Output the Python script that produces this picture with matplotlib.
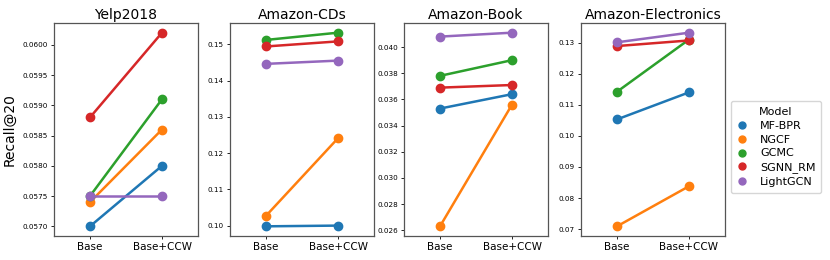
import matplotlib
matplotlib.use("Agg")
import matplotlib.pyplot as plt

datasets = ["Yelp2018", "Amazon-CDs", "Amazon-Book", "Amazon-Electronics"]
conditions = ["Base", "Base+CCW"]
models = ["MF-BPR", "NGCF", "GCMC", "SGNN_RM", "LightGCN"]
colors = ["#1f77b4", "#ff7f0e", "#2ca02c", "#d62728", "#9467bd"]

yelp = {"MF-BPR": [0.0570, 0.0580], "NGCF": [0.0574, 0.0586], "GCMC": [0.0575, 0.0591],
        "SGNN_RM": [0.0588, 0.0602], "LightGCN": [0.0575, 0.0575]}
cds = {"MF-BPR": [0.0998, 0.1000], "NGCF": [0.1027, 0.1241], "GCMC": [0.1512, 0.1532],
       "SGNN_RM": [0.1494, 0.1508], "LightGCN": [0.1446, 0.1455]}
book = {"MF-BPR": [0.0353, 0.0364], "NGCF": [0.0263, 0.0356], "GCMC": [0.0378, 0.0390],
        "SGNN_RM": [0.0369, 0.0371], "LightGCN": [0.0408, 0.0411]}
elec = {"MF-BPR": [0.1053, 0.1140], "NGCF": [0.0709, 0.0838], "GCMC": [0.1142, 0.1310],
        "SGNN_RM": [0.1289, 0.1307], "LightGCN": [0.1301, 0.1332]}
all_data = [yelp, cds, book, elec]

yticks = [
    [0.0570, 0.0575, 0.0580, 0.0585, 0.0590, 0.0595, 0.0600],
    [0.10, 0.11, 0.12, 0.13, 0.14, 0.15],
    [0.026, 0.028, 0.030, 0.032, 0.034, 0.036, 0.038, 0.040],
    [0.07, 0.08, 0.09, 0.10, 0.11, 0.12, 0.13],
]
yfmt = ["{:.4f}", "{:.2f}", "{:.3f}", "{:.2f}"]

fig = plt.figure(figsize=(8.3, 2.6), dpi=100)
lefts = [54, 230, 404, 581]
width = 144
bottom_px, top_px = 236, 23
W, H = 830, 260
handles = []
for i, (name, data) in enumerate(zip(datasets, all_data)):
    ax = fig.add_axes([lefts[i] / W, 1 - bottom_px / H, width / W, (bottom_px - top_px) / H])
    x = range(len(conditions))
    for m, c in zip(models, colors):
        ax.plot(x, data[m], color=c, lw=1.8, marker="o", markersize=6, zorder=3)
        if i == 0:
            handles.append(plt.Line2D([], [], color=c, marker="o", linestyle="none", markersize=5, label=m))
    ax.set_xlim(-0.5, 1.5)
    ax.set_xticks(list(x))
    ax.set_xticklabels(conditions, fontsize=7.5)
    ax.set_yticks(yticks[i])
    ax.set_yticklabels([yfmt[i].format(v) for v in yticks[i]], fontsize=5.2)
    ax.set_title(name, fontsize=10, pad=3)
    ax.tick_params(length=2.5, width=0.6, pad=2)
    for s in ax.spines.values():
        s.set_color("#555555")
        s.set_linewidth(0.9)
    if i == 0:
        ax.set_ylabel("Recall@20", fontsize=10)
    lo, hi = min(min(v) for v in data.values()), max(max(v) for v in data.values())
    pad = (hi - lo) * 0.05
    ax.set_ylim(lo - pad, hi + pad)

fig.legend(handles=handles, title="Model", loc="center", bbox_to_anchor=(776 / W, 1 - 147 / H),
           fontsize=8, title_fontsize=8, frameon=True, handletextpad=1.1, borderpad=0.5,
           labelspacing=0.35, handlelength=1.0)
fig.savefig("out.png", dpi=100)
